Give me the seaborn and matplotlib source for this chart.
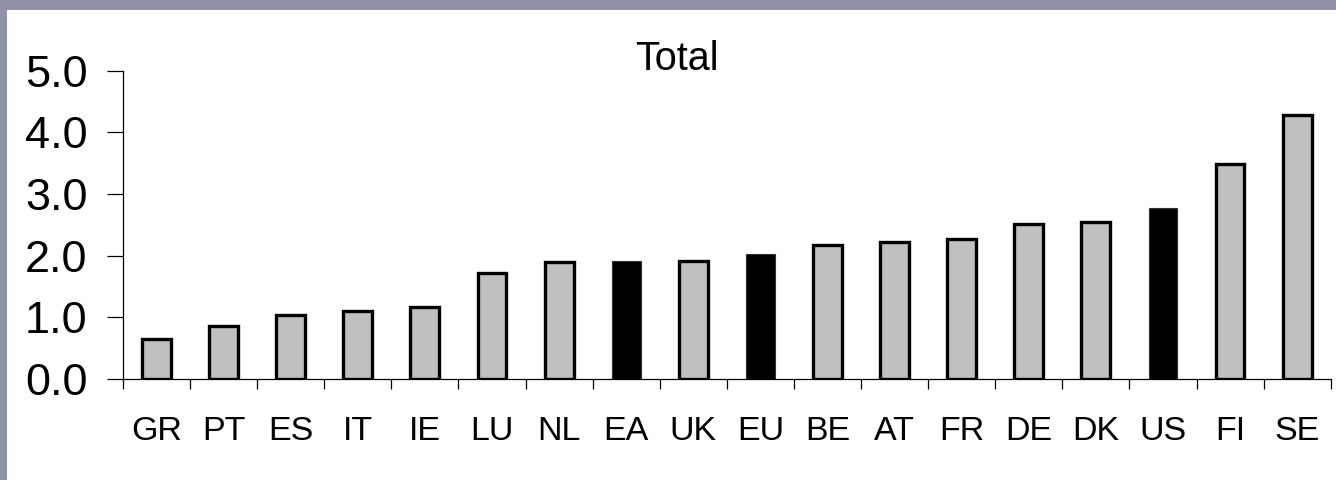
import matplotlib
matplotlib.use("Agg")
import matplotlib.pyplot as plt
from matplotlib.patches import Rectangle
from matplotlib.ticker import MultipleLocator, FixedLocator
import seaborn as sns
import pandas as pd

countries = ["GR", "PT", "ES", "IT", "IE", "LU", "NL", "EA", "UK",
             "EU", "BE", "AT", "FR", "DE", "DK", "US", "FI", "SE"]
totals = [0.65, 0.86, 1.04, 1.11, 1.16, 1.72, 1.90, 1.92, 1.91,
          2.02, 2.18, 2.22, 2.27, 2.51, 2.54, 2.78, 3.48, 4.28]
aggregates = ["EA", "EU", "US"]

title_text = "Total"

sns.set_theme(style="white")
plt.rcParams["font.family"] = ["Liberation Sans", "DejaVu Sans"]

df = pd.DataFrame({"country": countries, "total": totals})
colors = {c: ("#000000" if c in aggregates else "#c0c0c0") for c in countries}

fig = plt.figure(figsize=(13.36, 4.80), dpi=100, facecolor="white")
W, H = 1336, 480
# slide frame strips along the left and top edges
frame = "#9092aa"
fig.patches.append(Rectangle((0, 0), 7 / W, 1, transform=fig.transFigure,
                             facecolor=frame, edgecolor="none"))
fig.patches.append(Rectangle((0, 1 - 10 / H), 1, 10 / H, transform=fig.transFigure,
                             facecolor=frame, edgecolor="none"))

ax = fig.add_axes([123 / W, (H - 379) / H, (1330.7 - 123) / W, (379 - 70.7) / H])
ax.set_facecolor("none")

sns.barplot(data=df, x="country", y="total", hue="country", palette=colors,
            legend=False, width=0.43, ax=ax, saturation=1)

for patch, c in zip(ax.patches, countries):
    if c in aggregates:
        patch.set_edgecolor("#333333")
        patch.set_linewidth(0.8)
    else:
        patch.set_edgecolor("black")
        patch.set_linewidth(2.4)

ax.set_xlim(-0.5, len(countries) - 0.5)
ax.set_ylim(0, 5)
ax.yaxis.set_major_locator(MultipleLocator(1.0))
ax.set_yticklabels([f"{v:.1f}" for v in ax.get_yticks()])
ax.xaxis.set_minor_locator(FixedLocator([i - 0.5 for i in range(len(countries) + 1)]))

ax.set_xlabel("")
ax.set_ylabel("")

for side in ["top", "right"]:
    ax.spines[side].set_visible(False)
for side in ["left", "bottom"]:
    ax.spines[side].set_color("black")
    ax.spines[side].set_linewidth(0.9)

ax.tick_params(axis="y", which="major", direction="out", length=11.5, width=0.9,
               color="black", labelsize=32.5, pad=14, left=True)
ax.tick_params(axis="x", which="major", length=0, labelsize=24.5, pad=27, bottom=True)
ax.tick_params(axis="x", which="minor", direction="out", length=7.5, width=0.9,
               color="black", bottom=True)
for lbl in ax.get_yticklabels() + ax.get_xticklabels():
    lbl.set_color("black")

fig.text(677 / W, 1 - 70 / H, title_text, ha="center", va="baseline",
         fontsize=28.5, color="black")

fig.savefig("out.png", dpi=100, facecolor=fig.get_facecolor())
